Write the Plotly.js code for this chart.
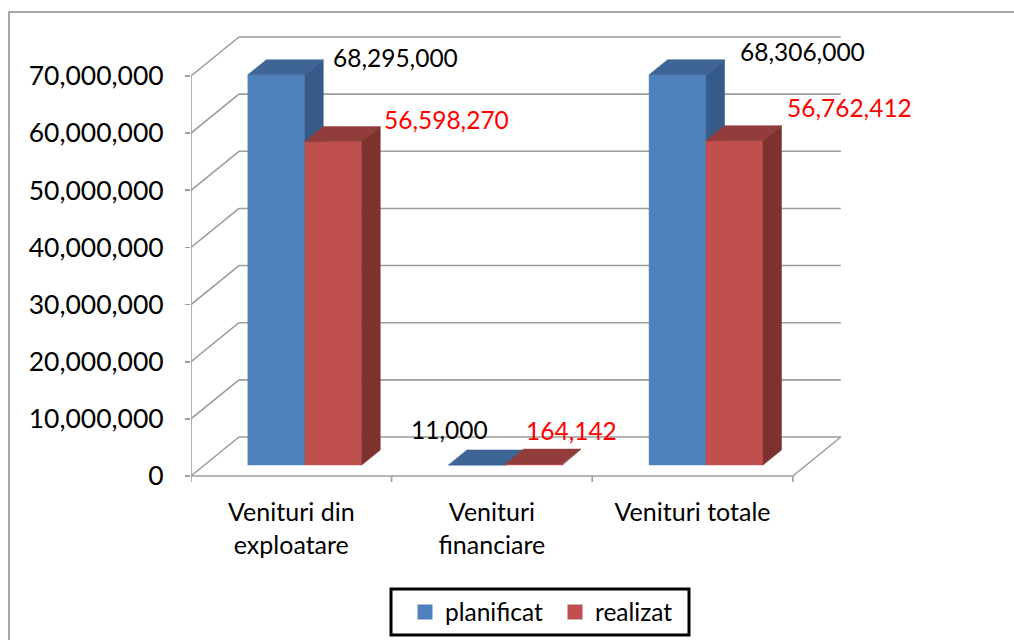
<!DOCTYPE html>
<html>
<head>
<meta charset="utf-8">
<script src="https://cdn.plot.ly/plotly-3.0.1.min.js"></script>
<style>
html,body{margin:0;padding:0;background:#fff;}
#chart{width:1014px;height:640px;}
</style>
</head>
<body>
<div id="chart"></div>
<script>
// ---- data ----
const categories = ['Venituri din<br>exploatare', 'Venituri<br>financiare', 'Venituri totale'];
const seriesNames = ['planificat', 'realizat'];
const planificat = [68295000, 11000, 68306000];
const realizat = [56598270, 164142, 56762412];
const yTickVals = [0, 10000000, 20000000, 30000000, 40000000, 50000000, 60000000, 70000000];

// ---- style / geometry ----
const FONT = 'Lato, "Open Sans", "Liberation Sans", sans-serif';
const W = 1014, H = 640;
const M = {l: 191, r: 169, t: 30, b: 154};
const PXX = 200.7;                 // px per category unit
const KY = 400 / 70000000;         // px per value unit
const DX = 48 / PXX;               // depth offset (x, data units)
const DY = 39 / KY;                // depth offset (y, data units)
const BW = 57 / PXX;               // bar width
const F1 = 0.282, F2 = 0.667;      // bar front/back depth fractions
const colors = {
  planificat: {front: '#4F81BD', top: '#3E6595', side: '#375B88'},
  realizat:   {front: '#C0504D', top: '#923D3B', side: '#7D3230'}
};
const labelColor = {planificat: '#000000', realizat: '#FF0000'};
const labelNudge = {planificat: [[8, 2], [-115, 20], [13, 8]], realizat: [[2, 7], [-57, 19], [3, 18]]};
const gridColor = '#9d9d9d';

const seriesValues = {planificat: planificat, realizat: realizat};
const traces = [];
const annotations = [];

seriesNames.forEach((name, s) => {
  const vals = seriesValues[name];
  const front = {x: [], y: []}, top = {x: [], y: []}, side = {x: [], y: []};
  vals.forEach((v, i) => {
    const x0 = i - BW + s * BW, x1 = x0 + BW;
    const a = F1, b = F2;
    front.x.push(x0 + a*DX, x1 + a*DX, x1 + a*DX, x0 + a*DX, x0 + a*DX, null);
    front.y.push(a*DY, a*DY, v + a*DY, v + a*DY, a*DY, null);
    top.x.push(x0 + a*DX, x1 + a*DX, x1 + b*DX, x0 + b*DX, x0 + a*DX, null);
    top.y.push(v + a*DY, v + a*DY, v + b*DY, v + b*DY, v + a*DY, null);
    side.x.push(x1 + a*DX, x1 + b*DX, x1 + b*DX, x1 + a*DX, x1 + a*DX, null);
    side.y.push(a*DY, b*DY, v + b*DY, v + a*DY, a*DY, null);
    annotations.push({
      x: x1 + b*DX, y: v + b*DY, xref: 'x', yref: 'y',
      text: v.toLocaleString('en-US'), showarrow: false,
      xanchor: 'left', yanchor: 'middle',
      xshift: labelNudge[name][i][0], yshift: labelNudge[name][i][1],
      font: {family: FONT, size: 24.5, color: labelColor[name]}
    });
  });
  [['front', front], ['top', top], ['side', side]].forEach(([part, p]) => {
    traces.push({
      type: 'scatter', mode: 'lines', x: p.x, y: p.y,
      fill: 'toself', fillcolor: colors[name][part],
      line: {color: colors[name][part], width: 0.5},
      hoverinfo: 'skip', showlegend: false
    });
  });
  // legend entry
  traces.push({
    type: 'scatter', mode: 'markers', x: [null], y: [null], name: name,
    marker: {symbol: 'square', size: 15, color: colors[name].front},
    showlegend: true
  });
});

// walls / grid
const shapes = [];
const nCat = categories.length;
const xL = -0.5, xR = nCat - 0.5;
yTickVals.forEach(v => {
  shapes.push({type: 'line', xref: 'x', yref: 'y', x0: xL, y0: v, x1: xL + DX, y1: v + DY,
    line: {color: gridColor, width: 1.6}, layer: 'below'});
  shapes.push({type: 'line', xref: 'x', yref: 'y', x0: xL + DX, y0: v + DY, x1: xR + DX, y1: v + DY,
    line: {color: gridColor, width: 1.6}, layer: 'below'});
});
shapes.push({type: 'line', xref: 'x', yref: 'y', x0: xL, y0: 0, x1: xL, y1: yTickVals[yTickVals.length - 1],
  line: {color: gridColor, width: 1.6}, layer: 'below'});
shapes.push({type: 'line', xref: 'x', yref: 'y', x0: xL, y0: 0, x1: xR, y1: 0,
  line: {color: gridColor, width: 1.6}, layer: 'below'});
shapes.push({type: 'line', xref: 'x', yref: 'y', x0: xR, y0: 0, x1: xR + DX, y1: DY,
  line: {color: gridColor, width: 1.6}, layer: 'below'});
for (let k = 0; k <= nCat; k++) {
  shapes.push({type: 'line', xref: 'x', yref: 'y', x0: xL + k, y0: 0, x1: xL + k, y1: -6 / KY,
    line: {color: gridColor, width: 1.6}, layer: 'below'});
}
// pixel -> paper helpers for frame boxes
const PW = W - M.l - M.r, PH = H - M.t - M.b;
const px2x = px => (px - M.l) / PW;
const py2y = py => (H - M.b - py) / PH;
// outer chart border
shapes.push({type: 'rect', xref: 'paper', yref: 'paper', x0: px2x(9), y0: py2y(700), x1: px2x(1080), y1: py2y(12),
  line: {color: '#8c8c8c', width: 1.5}, fillcolor: 'rgba(0,0,0,0)', layer: 'below'});
// legend frame
shapes.push({type: 'rect', xref: 'paper', yref: 'paper', x0: px2x(391), y0: py2y(635), x1: px2x(689), y1: py2y(589),
  line: {color: '#000000', width: 3}, fillcolor: 'rgba(0,0,0,0)', layer: 'above'});

const layout = {
  width: W, height: H,
  margin: M,
  paper_bgcolor: '#ffffff', plot_bgcolor: 'rgba(0,0,0,0)',
  font: {family: FONT, size: 24, color: '#000'},
  showlegend: true,
  legend: {
    orientation: 'h', xref: 'container', yref: 'container',
    x: 405 / W, y: 1 - 612 / H, xanchor: 'left', yanchor: 'middle',
    borderwidth: 0, bgcolor: 'rgba(0,0,0,0)', entrywidth: 105,
    font: {family: FONT, size: 24.5, color: '#000'}
  },
  xaxis: {
    range: [-0.5, 2.76], showgrid: false, zeroline: false, showline: false,
    tickvals: categories.map((c, i) => i), ticktext: categories,
    ticks: '', ticklabelstandoff: 9, automargin: false,
    tickfont: {family: FONT, size: 25, color: '#000'}, fixedrange: true
  },
  yaxis: {
    range: [-10 / KY, 446 / KY], showgrid: false, zeroline: false, showline: false,
    tickvals: yTickVals, tickformat: ',d', automargin: false,
    ticks: 'outside', ticklen: 5, tickcolor: gridColor, tickwidth: 1.6,
    ticklabelstandoff: 16,
    tickfont: {family: FONT, size: 26.5, color: '#000'}, fixedrange: true
  },
  shapes: shapes,
  annotations: annotations
};

Plotly.newPlot('chart', traces, layout, {displayModeBar: false, staticPlot: true});
</script>
</body>
</html>
